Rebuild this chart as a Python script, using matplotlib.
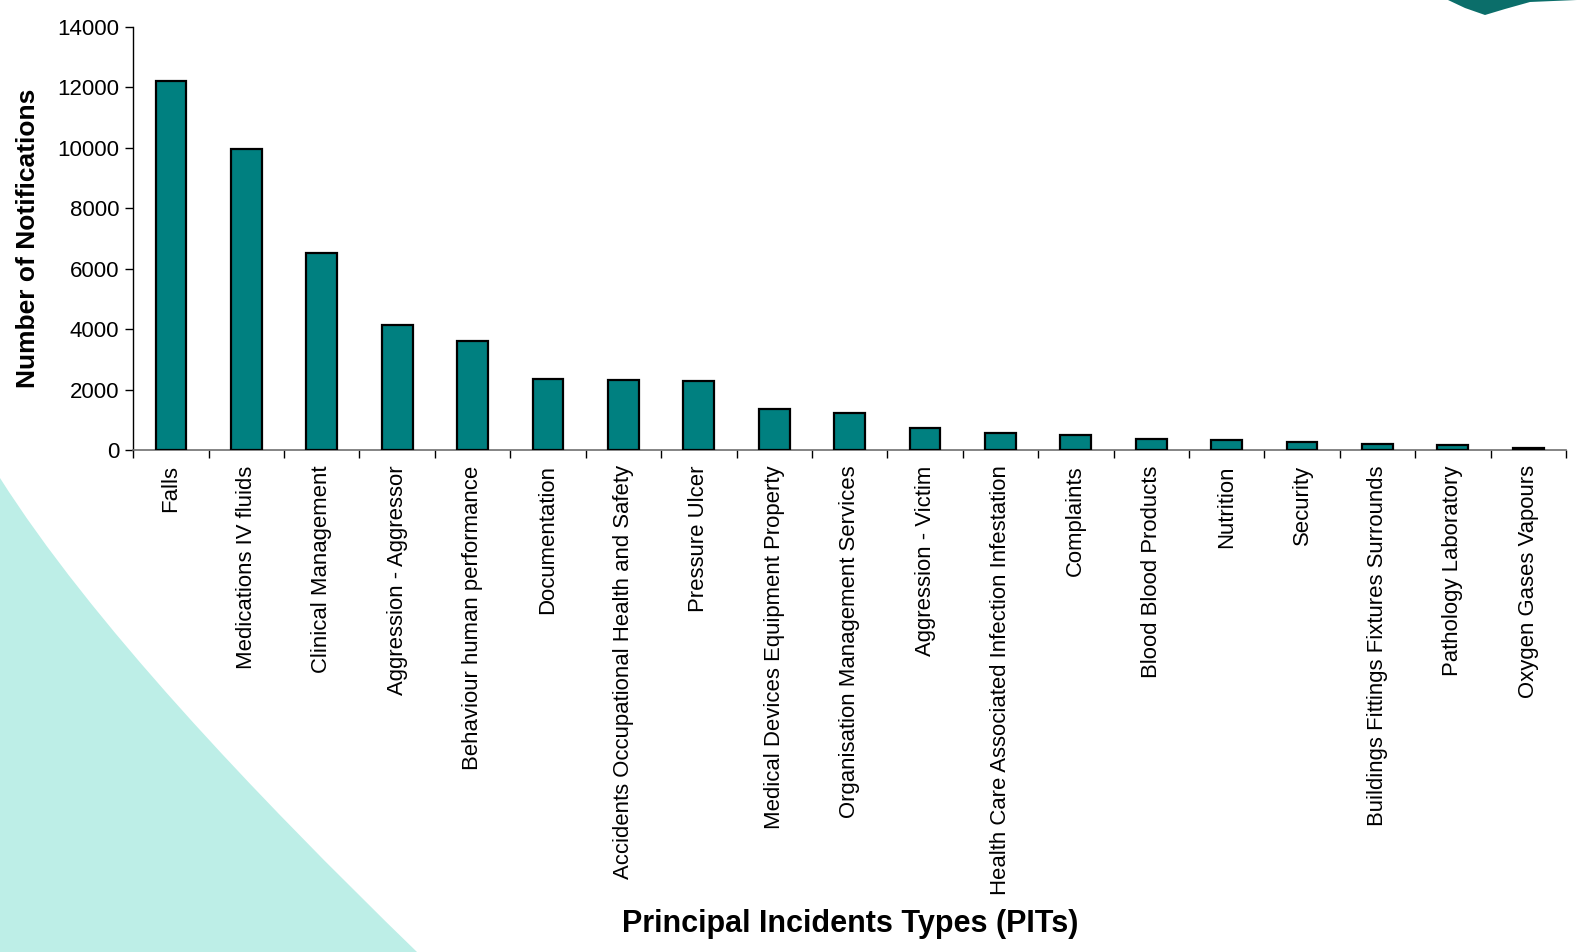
import matplotlib.pyplot as plt
from matplotlib.patches import Polygon, PathPatch
from matplotlib.path import Path
import numpy as np

# Principal Incident Types and number of notifications
categories = ["Falls", "Medications IV fluids", "Clinical Management",
              "Aggression - Aggressor", "Behaviour human performance",
              "Documentation", "Accidents Occupational Health and Safety",
              "Pressure Ulcer", "Medical Devices Equipment Property",
              "Organisation Management Services", "Aggression - Victim",
              "Health Care Associated Infection Infestation", "Complaints",
              "Blood Blood Products", "Nutrition", "Security",
              "Buildings Fittings Fixtures Surrounds", "Pathology Laboratory",
              "Oxygen Gases Vapours"]
notifications = [12200, 9960, 6520, 4140, 3590, 2340, 2310, 2275, 1340,
                 1230, 740, 550, 495, 350, 320, 265, 190, 170, 60]
yticks = [0, 2000, 4000, 6000, 8000, 10000, 12000, 14000]

plt.rcParams["font.family"] = ["Liberation Sans", "DejaVu Sans"]

fig = plt.figure(figsize=(15.77, 9.52), dpi=100)


def fxy(x, y):
    # pixel position -> figure fraction
    return (x / 1577, 1 - y / 952)


# background decoration: light cyan swoosh bottom left
verts = [fxy(0, 478), fxy(90, 620), fxy(250, 790), fxy(417, 952),
         fxy(0, 952), fxy(0, 478)]
codes = [Path.MOVETO, Path.CURVE4, Path.CURVE4, Path.CURVE4,
         Path.LINETO, Path.CLOSEPOLY]
fig.patches.append(PathPatch(Path(verts, codes), transform=fig.transFigure,
                             facecolor="#bdeee7", edgecolor="none", zorder=0))
# dark teal lip in the top right corner
lip = [(1448, 0), (1465, 8), (1485, 15), (1505, 9), (1530, 2), (1577, 0)]
fig.patches.append(Polygon([fxy(x, y) for x, y in lip], closed=True,
                           transform=fig.transFigure, facecolor="#0b6e6a",
                           edgecolor="none", zorder=0))

ax = fig.add_axes([0.0845, 0.5273, 0.9085, 0.4447])
ax.patch.set_alpha(0)

x = np.arange(len(categories))
ax.bar(x, notifications, width=0.41, color="#008080", edgecolor="black",
       linewidth=1.6, zorder=3)

ax.set_xlim(-0.5, len(categories) - 0.5)
ax.set_ylim(0, 14000)
ax.set_yticks(yticks)
ax.set_yticklabels([str(v) for v in yticks], fontsize=16)
ax.tick_params(axis="y", direction="out", length=6, width=1, pad=4)

ax.set_xticks(x)
ax.set_xticklabels(categories, rotation=90, fontsize=15.9, va="top")
ax.tick_params(axis="x", which="major", length=0, pad=11)
ax.set_xticks(np.arange(len(categories) + 1) - 0.5, minor=True)
ax.tick_params(axis="x", which="minor", direction="out", length=6, width=1)

for side in ["top", "right"]:
    ax.spines[side].set_visible(False)
ax.spines["left"].set_linewidth(1)
ax.spines["bottom"].set_linewidth(1.2)
ax.spines["bottom"].set_color("#707070")

fig.text(0.018, 0.75, "Number of Notifications", rotation=90, fontsize=19,
         fontweight="bold", ha="center", va="center")
fig.text(0.539, 0.029, "Principal Incidents Types (PITs)", fontsize=22,
         fontweight="bold", ha="center", va="center")

fig.savefig("out.png", dpi=100)
